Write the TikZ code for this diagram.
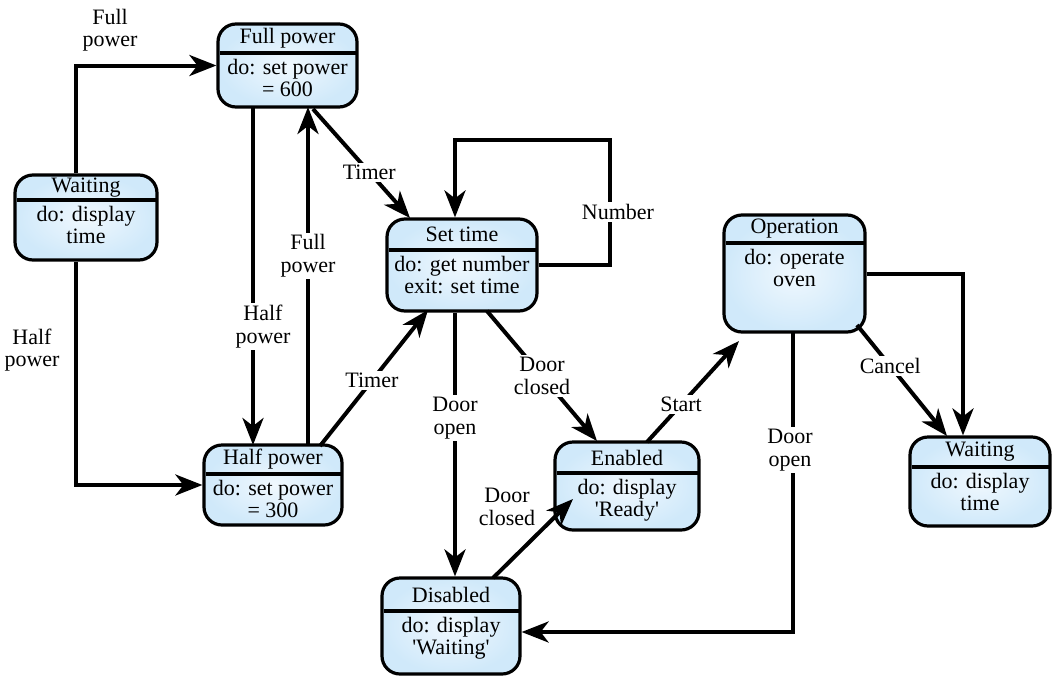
\documentclass[tikz,border=0pt]{standalone}
\usepackage{fontspec}
\setmainfont{Liberation Serif}
\usetikzlibrary{arrows.meta}
\definecolor{stout}{RGB}{208,233,250}
\definecolor{stin}{RGB}{240,248,254}
\tikzset{
  stbox/.style={draw=black, line width=3.2pt, rounded corners=18pt, shade, inner color=stin, outer color=stout, inner sep=0pt},
  divl/.style={draw=black, line width=3.8pt},
  ttl/.style={font=\fontsize{22}{22.5}\selectfont, inner sep=0pt},
  bdy/.style={font=\fontsize{22}{22.5}\selectfont, align=center, inner sep=0pt, anchor=north},
  lbl/.style={font=\fontsize{22}{22.5}\selectfont, align=center, inner sep=2pt, fill=white},
  lbln/.style={font=\fontsize{22}{22.5}\selectfont, align=center, inner sep=2pt},
  conn/.style={line width=4pt, draw=black, -{Stealth[length=27pt,width=21pt,inset=8pt]}},
}
\newcommand\mkstate[8]{%
  \pgfmathsetmacro\stw{#4-#2}%
  \pgfmathsetmacro\sth{#5-#3}%
  \pgfmathsetmacro\stcx{(#2+#4)/2}%
  \pgfmathsetmacro\stcy{(#3+#5)/2}%
  \pgfmathsetmacro\stty{(#3+#6)/2}%
  \pgfmathsetmacro\stby{#6+6}%
  \node[stbox, minimum width=\stw pt, minimum height=\sth pt] (#1) at (\stcx,\stcy) {};
  \draw[divl] (#2+1.5,#6) -- (#4-1.5,#6);
  \node[ttl] (#1-t) at (\stcx,\stty) {#7};
  \node[bdy] (#1-b) at (\stcx,\stby) {#8};
}
\newcommand\sq{\textquotesingle}
\begin{document}
\begin{tikzpicture}[x=1pt,y=-1pt]
\useasboundingbox (0,0) rectangle (1057,678);
% states
\mkstate{wl}{15}{175}{157}{260}{200}{Waiting}{do: display\\time}
\mkstate{fp}{218}{24}{357}{107}{53}{Full power}{do: set power\\= 600}
\mkstate{hp}{204}{445}{342}{525}{474}{Half power}{do: set power\\= 300}
\mkstate{st}{387}{219}{537}{311}{250}{Set time}{do: get number\\exit: set time}
\mkstate{op}{724}{215}{865}{332}{243}{Operation}{do: operate\\oven}
\mkstate{en}{555}{442}{699}{530}{473}{Enabled}{do: display\\\sq Ready\sq}
\mkstate{wr}{910}{437}{1050}{526}{467}{Waiting}{do: display\\time}
\mkstate{dis}{382}{578}{520}{674}{611}{Disabled}{do: display\\\sq Waiting\sq}
% connectors
\draw[conn] ([xshift=-10pt]wl.north) |- (fp.west);
\node[lbln] (l1) at (110,30) {Full\\power};
\draw[conn] ([xshift=-10pt]wl.south) |- (hp.west);
\node[lbln] (l2) at (32,350) {Half\\power};
\coordinate (a1) at (253,107);
\coordinate (a2) at (253,445);
\draw[conn] (a1) -- node[lbl, pos=0.65, xshift=10pt] {Half\\power} (a2);
\coordinate (b1) at (308,445);
\coordinate (b2) at (308,107);
\draw[conn] (b1) -- node[lbl, pos=0.56] {Full\\power} (b2);
\coordinate (c1) at (313,109);
\coordinate (c2) at (410,218);
\draw[conn] (c1) -- node[lbl, pos=0.58] {Timer} (c2);
\coordinate (d1) at (320,446);
\coordinate (d2) at (428,310);
\draw[conn] (d1) -- node[lbl, pos=0.48] {Timer} (d2);
\coordinate (lp) at (610,140);
\draw[conn] (st.east) -| (lp) -| ([xshift=-7pt]st.north);
\node[lbl] (l7) at (618,212) {Number};
\draw[conn] ([xshift=-7pt]st.south) -- node[lbl, pos=0.4] {Door\\open} ([xshift=-7pt]st.south |- dis.north);
\coordinate (e1) at (487,311);
\coordinate (e2) at (597,441);
\draw[conn] (e1) -- node[lbl, pos=0.5] {Door\\closed} (e2);
\coordinate (f1) at (493,578);
\coordinate (f2) at (573,499);
\draw[conn] (f1) -- (f2);
\node[lbln] (l10) at (507,507) {Door\\closed};
\coordinate (g1) at (647,442);
\coordinate (g2) at (739,341);
\draw[conn] (g1) -- node[lbl, pos=0.37] {Start} (g2);
\draw[conn] (op.east) -| ([xshift=-17pt]wr.north);
\coordinate (h1) at (857,325);
\coordinate (h2) at (947,436);
\draw[conn] (h1) -- node[lbl, pos=0.37] {Cancel} (h2);
\coordinate (k1) at (793,332);
\coordinate (k2) at (793,632);
\draw[conn] (k1) -- (k2) -- (k2 -| dis.east);
\node[lbl] (l14) at (790,450) {Door\\open};
\end{tikzpicture}
\end{document}
